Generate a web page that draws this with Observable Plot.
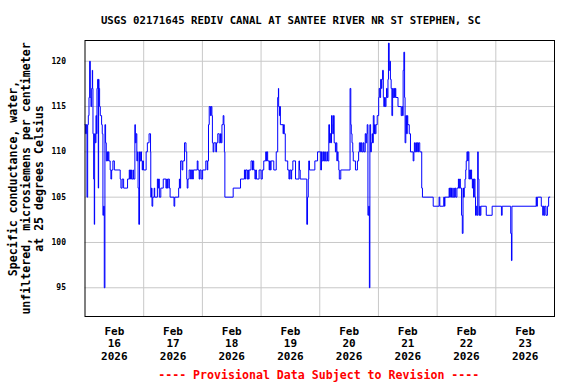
<!DOCTYPE html>
<html>
<head>
<meta charset="utf-8">
<script src="https://cdn.jsdelivr.net/npm/d3@7"></script>
<script src="https://cdn.jsdelivr.net/npm/@observablehq/plot@0.6"></script>
<style>
  html, body { margin: 0; padding: 0; background: #fff; }
</style>
</head>
<body>
<div id="chart"></div>
<script>
// ---- data ----
const title = "USGS 02171645 REDIV CANAL AT SANTEE RIVER NR ST STEPHEN, SC";
const yTitle = "Specific conductance, water,\nunfiltered, microsiemens per centimeter\nat 25 degrees Celsius";
const footer = "---- Provisional Data Subject to Revision ----";
const startDate = Date.UTC(2026, 1, 16);  // Feb 16 2026 00:00
const dayNumbers = [16, 17, 18, 19, 20, 21, 22, 23];
const monthLabel = "Feb";
const yearLabel = "2026";
const yTicks = [95, 100, 105, 110, 115, 120];

// hours after Feb 16 00:00 where the reading changes (step series)
const hours = [
  0.0,0.27,0.54,0.81,1.09,1.36,1.63,1.9,2.17,2.44,2.72,2.99,3.12,3.26,3.53,3.8,3.94,4.21,4.48,4.75,4.89,5.16,5.43,5.57,5.7,5.97,6.25,6.79,7.06,7.33,7.6,7.88,8.15,8.42,8.69,8.96,9.23,9.51,9.78,10.3,10.6,10.9,11.4,12.0,14.4,14.7,15.2,15.8,17.4,18.1,18.3,18.6,19.0,19.6,19.8,20.4,20.6,20.9,21.2,21.5,21.7,22.0,22.3,22.5,22.8,23.1,23.4,23.6,23.9,25.0,25.5,26.2,26.5,26.8,26.9,27.2,27.4,27.7,28.3,28.5,29.6,29.9,30.1,30.4,31.0,32.0,33.1,33.4,33.7,34.0,34.5,34.8,36.4,36.7,38.3,38.6,38.8,39.1,39.7,40.0,40.7,41.3,41.6,41.8,42.1,42.6,43.2,43.5,44.0,44.3,45.9,46.2,46.7,47.0,47.5,48.1,49.4,50.0,50.2,50.5,50.8,51.3,51.6,51.9,52.1,52.4,52.7,53.5,53.8,54.3,54.9,55.4,55.7,56.0,56.5,56.8,57.0,57.2,
  60.6,63.6,65.2,65.5,65.7,66.3,66.6,66.8,67.1,67.9,68.5,68.7,69.0,69.5,69.8,70.1,71.2,72.0,72.5,73.1,73.9,74.2,74.4,74.7,75.3,75.5,75.8,76.1,77.2,78.2,78.8,79.1,79.2,79.5,79.7,79.9,81.0,81.2,81.5,81.9,82.9,83.4,83.7,84.2,84.5,85.0,86.1,87.5,87.7,88.0,90.7,91.0,91.3,91.5,91.8,94.0,95.1,96.4,96.7,97.0,97.5,97.8,98.1,98.3,98.9,99.2,99.7,100.0,100.2,100.5,100.8,101.1,101.3,101.6,101.9,102.4,102.7,103.0,103.2,103.5,103.8,104.0,104.6,108.4,108.7,108.9,109.2,109.5,109.7,110.6,111.4,111.9,112.2,112.7,113.0,113.3,113.8,114.1,114.6,114.9,115.2,115.4,115.7,116.0,116.3,116.5,116.8,117.1,117.4,117.6,117.9,118.2,118.4,118.7,119.0,119.5,120.1,120.3,120.6,120.9,121.2,121.4,121.7,122.0,122.2,122.5,122.8,123.1,123.3,123.6,123.9,124.1,124.4,124.7,124.9,125.2,125.5,125.8,126.0,126.3,126.6,126.9,127.1,128.0,
  129.3,129.6,129.9,130.1,130.4,130.7,130.9,131.2,131.5,131.8,132.0,132.6,133.1,134.2,134.5,134.7,135.0,135.3,135.6,135.8,136.1,136.4,136.9,137.7,138.0,142.4,144.8,145.1,146.7,147.0,147.2,148.9,149.1,149.4,149.7,149.9,150.2,150.8,151.0,151.3,151.6,152.1,152.7,152.9,153.2,153.5,154.0,154.3,154.6,154.8,155.1,155.4,155.7,155.9,156.2,156.5,156.7,157.0,157.3,157.6,157.8,158.1,158.4,158.6,158.9,159.2,159.5,159.7,160.0,160.3,160.6,160.8,161.1,161.4,161.6,161.9,164.1,166.5,170.3,170.6,174.1,174.4,174.6,184.5,184.7,185.0,186.6,187.2,187.4,187.7,188.0,188.5,189.1,189.6,190.2
];
const values = [
  113,112,113,105,113,114,116,120,116,115,117,119,117,112,107,102,112,111,114,112,117,118,106,118,117,115,114,113,112,103,104,95,113,111,109,110,109,110,109,108,107,108,109,108,107,106,107,106,107,108,107,108,107,108,107,113,111,112,109,110,106,102,110,109,110,109,108,109,108,110,111,112,112,110,105,106,104,105,106,105,107,106,107,105,106,107,106,107,106,107,106,105,104,105,106,107,106,109,108,109,111,110,107,106,107,108,107,108,107,108,109,108,107,108,107,108,109,108,109,113,115,114,115,114,111,110,111,110,111,112,111,112,111,113,114,113,110,105,
  106,107,108,107,108,107,108,107,108,109,108,109,108,107,108,107,108,107,108,109,110,109,110,109,108,109,108,109,108,110,116,117,115,114,115,113,112,113,112,109,108,107,108,107,108,109,107,109,108,107,102,105,107,109,108,109,110,108,110,109,110,109,110,109,110,109,113,111,112,111,114,113,112,114,111,110,111,109,110,109,108,107,108,117,113,112,111,110,109,108,109,110,111,110,111,110,111,110,112,111,112,113,103,104,95,113,110,111,112,111,114,112,113,112,113,114,116,117,116,118,117,118,119,116,115,116,115,116,117,116,118,122,119,120,118,117,114,117,116,117,116,117,116,115,
  114,115,114,119,121,116,111,114,112,114,113,112,110,109,110,111,110,111,110,111,110,111,110,106,105,104,105,104,105,104,105,106,105,106,105,106,105,106,105,106,105,106,107,106,107,106,103,101,106,105,106,107,108,109,110,109,110,107,108,107,108,107,106,107,105,107,105,103,104,103,110,107,103,104,103,104,103,104,103,104,101,98,104,105,104,105,104,103,104,103,104,103,104,105,105
];

// ---- build ----
const H = 3600e3;
const data = hours.map((h, i) => ({ t: new Date(startDate + h * H), v: values[i] }));
const midnights = d3.range(0, 9).map(d => new Date(startDate + d * 24 * H));
const noons = dayNumbers.map((d, i) => ({ t: new Date(startDate + (i * 24 + 12) * H), label: `${monthLabel}\n${d}\n${yearLabel}` }));
const font = "DejaVu Sans Mono";

const chart = Plot.plot({
  width: 576,
  height: 384,
  marginLeft: 84.5,
  marginRight: 22,
  marginTop: 40,
  marginBottom: 68,
  style: { background: "#fff", fontFamily: font },
  x: { type: "time", domain: [midnights[0], midnights[8]], axis: null },
  y: { domain: [91.83, 122.29], axis: null },
  marks: [
    Plot.gridX(midnights.slice(1, 8), { stroke: "#c8c8c8", strokeOpacity: 1, strokeWidth: 1 }),
    Plot.gridY(yTicks, { stroke: "#c8c8c8", strokeOpacity: 1, strokeWidth: 1 }),
    Plot.line(data, { x: "t", y: "v", curve: "step-after", stroke: "#0000ff", strokeWidth: 1 }),
    Plot.frame({ stroke: "#000", strokeWidth: 1 }),
    Plot.text(yTicks, { y: d => d, text: d => String(d), frameAnchor: "left", dx: -19, textAnchor: "end", fontSize: 8, fontWeight: "bold", fontFamily: font, fill: "#000" }),
    Plot.text(noons, { x: "t", text: "label", frameAnchor: "bottom", dy: 9, lineAnchor: "top", lineHeight: 1.16, fontSize: 11, fontWeight: "bold", fontFamily: font, fill: "#000" }),
    Plot.text([title], { text: d => d, frameAnchor: "top", dx: -29, dy: -20, lineAnchor: "middle", fontSize: 10.7, fontWeight: "bold", fontFamily: font, fill: "#000" }),
    Plot.text([footer], { text: d => d, frameAnchor: "bottom", dx: -1, dy: 59, lineAnchor: "middle", fontSize: 11.6, fontWeight: "bold", fontFamily: font, fill: "#ff0000" }),
    Plot.text([yTitle], { text: d => d, frameAnchor: "left", dx: -59.5, rotate: -90, textAnchor: "middle", lineAnchor: "middle", lineHeight: 1.12, fontSize: 11.6, fontWeight: "bold", fontFamily: font, fill: "#000" })
  ]
});
document.getElementById("chart").appendChild(chart);
</script>
</body>
</html>
